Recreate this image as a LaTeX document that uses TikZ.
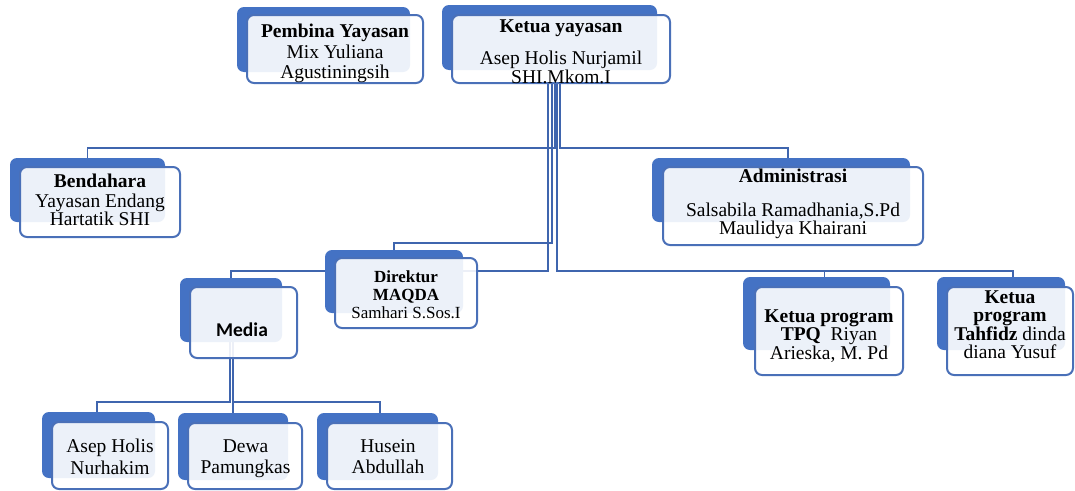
\documentclass[tikz,border=0pt]{standalone}
\usepackage{fontspec}
\setmainfont{Liberation Serif}
\newfontfamily\carlito{Carlito}
\usetikzlibrary{fit,backgrounds}
\definecolor{obl}{HTML}{4472C4}
\definecolor{lineblue}{HTML}{3F65AE}
\definecolor{frameblue}{HTML}{4A70B8}
\tikzset{
  backbox/.style={fill=obl, draw=none, rounded corners=7pt, inner sep=0pt, outer sep=0pt},
  frontbox/.style={fill=white, fill opacity=0.9, draw=frameblue, draw opacity=1, line width=2pt, rounded corners=7pt, inner sep=0pt, outer sep=0pt},
  txt/.style={align=center, inner sep=0pt, outer sep=0pt, font=\fontsize{19.5}{18.5}\selectfont, anchor=north, text=black},
  smalltxt/.style={txt, font=\fontsize{17}{18}\selectfont},
  conn/.style={draw=lineblue, line width=1.4pt},
}
\begin{document}
\begin{tikzpicture}[x=1pt, y=-1pt]
\useasboundingbox (0,0) rectangle (1075,490);

% Pembina Yayasan
\node[backbox, fit={(237,7) (410,72)}] (pB) {};
\node[frontbox, fit={(247,15) (423,83)}] (pF) {};
\node[txt] (pT) at (335,24.05) {\strut\textbf{Pembina Yayasan}\\[1pt] Mix Yuliana\\[1pt] Agustiningsih};

% Ketua yayasan
\node[backbox, fit={(442,5) (657,70)}] (kB) {};
\node[frontbox, fit={(452,15) (670,83)}] (kF) {};
\node[txt] (kT) at (561,19.05) {\strut\textbf{Ketua yayasan}\\[12pt] Asep Holis Nurjamil\\[0.5pt] SHI.Mkom.I};

% Bendahara
\node[backbox, fit={(10,158) (165,222)}] (bB) {};
\node[frontbox, fit={(20,167) (180,237)}] (bF) {};
\node[txt] (bT) at (100,174.05) {\strut\textbf{Bendahara}\\[-0.5pt] Yayasan Endang\\[-0.5pt] Hartatik SHI};

% Administrasi
\node[backbox, fit={(652,158) (910,222)}] (aB) {};
\node[frontbox, fit={(663,167) (923,245)}] (aF) {};
\node[txt] (aT) at (793,169.05) {\strut\textbf{Administrasi}\\[13.5pt] Salsabila Ramadhania,S.Pd\\ Maulidya Khairani};

% Direktur MAQDA
\node[backbox, fit={(325,250) (463,313)}] (dB) {};
\node[frontbox, fit={(335,258) (477,328)}] (dF) {};
\node[smalltxt] (dT) at (406,269.4) {\strut\textbf{Direktur}\\ \textbf{MAQDA}\\ Samhari S.Sos.I};

% Media
\node[backbox, fit={(180,278) (282,342)}] (mB) {};
\node[frontbox, fit={(190,287) (297,358)}] (mF) {};
\node[txt, anchor=base, font=\fontsize{19.5}{18.5}\carlito\bfseries] (mT) at (242,336) {Media};

% Ketua program TPQ
\node[backbox, fit={(743,277) (890,350)}] (tB) {};
\node[frontbox, fit={(755,287) (903,375)}] (tF) {};
\node[txt] (tT) at (829,309.05) {\strut\textbf{Ketua program}\\ \textbf{TPQ}\ \ Riyan\\ Arieska, M. Pd};

% Ketua program Tahfidz
\node[backbox, fit={(937,277) (1065,350)}] (hB) {};
\node[frontbox, fit={(947,287) (1073,375)}] (hF) {};
\node[txt] (hT) at (1010,290.05) {\strut\textbf{Ketua}\\ \textbf{program}\\ \textbf{Tahfidz} dinda\\ diana Yusuf};

% Media members
\node[backbox, fit={(42,412) (155,478)}] (c1B) {};
\node[frontbox, fit={(52,422) (168,489)}] (c1F) {};
\node[txt] (c1T) at (110,439.05) {\strut Asep Holis\\[1.5pt] Nurhakim};

\node[backbox, fit={(178,413) (288,480)}] (c2B) {};
\node[frontbox, fit={(188,423) (302,489)}] (c2F) {};
\node[txt] (c2T) at (245.5,439.05) {\strut Dewa\\[1.5pt] Pamungkas};

\node[backbox, fit={(317,413) (438,480)}] (c3B) {};
\node[frontbox, fit={(327,423) (452,489)}] (c3F) {};
\node[txt] (c3T) at (388,439.05) {\strut Husein\\[1.5pt] Abdullah};

\begin{scope}[on background layer]
  \fill[white] (0,0) rectangle (1075,490);
  % from Ketua yayasan
  \draw[conn] ([xshift=-6pt]kF.south) -- ++(0,65) -| (bB.north);
  \draw[conn] ([xshift=-1pt]kF.south) -- ++(0,65) -| ([xshift=7pt]aB.north);
  \draw[conn] ([xshift=-9pt]kF.south) -- ++(0,160) -| (dB.north);
  \draw[conn] ([xshift=-13pt]kF.south) -- ++(0,188) -| (mB.north);
  \draw[conn] ([xshift=-4pt]kF.south) -- ++(0,188) -| ([xshift=8pt]tB.north);
  \draw[conn] ([xshift=-4pt]kF.south) -- ++(0,188) -| ([xshift=12pt]hB.north);
  % from Media
  \draw[conn] ([xshift=-1pt]mB.south) -- ++(0,60) -| ([xshift=-1.5pt]c1B.north);
  \draw[conn] ([xshift=2pt]mB.south) -- ++(0,60) -| (c2B.north);
  \draw[conn] ([xshift=2pt]mB.south) -- ++(0,60) -| ([xshift=2.5pt]c3B.north);
\end{scope}
\end{tikzpicture}
\end{document}
